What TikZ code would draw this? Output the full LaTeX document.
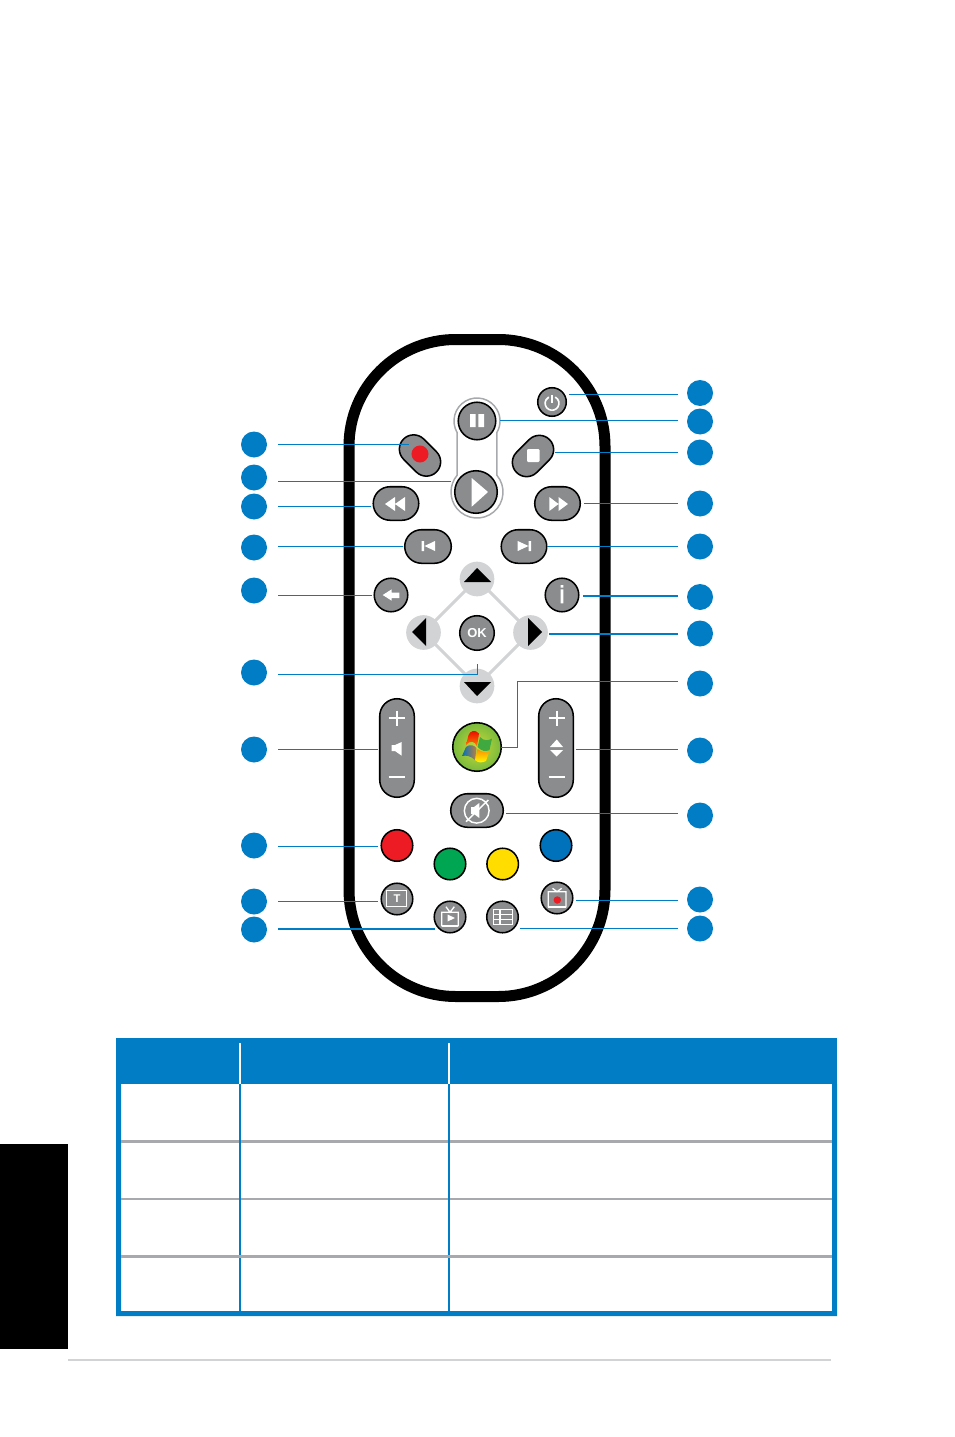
\documentclass[tikz,border=0pt]{standalone}
\usepackage{fontspec}
\setmainfont{Liberation Sans}
\usetikzlibrary{calc}
\definecolor{tblue}{HTML}{007DC5}
\definecolor{btngray}{HTML}{8A8C8E}
\definecolor{padgray}{HTML}{D1D3D4}
\definecolor{rulegray}{HTML}{A7A9AC}
\definecolor{kred}{HTML}{ED1C24}
\definecolor{kgreen}{HTML}{00A651}
\definecolor{kyellow}{HTML}{FFDD00}
\definecolor{kblue}{HTML}{0072BC}
\definecolor{wininner}{HTML}{C9DA3A}
\definecolor{winouter}{HTML}{78BA3C}
\tikzset{
  rad/.style={circle,minimum size=#1*1.5pt-1.1pt,inner sep=0pt},
  pill/.style 2 args={rectangle,minimum width=#1*0.75pt-1.1pt,minimum height=#2*0.75pt-1.1pt,
     rounded corners=#2*0.375pt-0.56pt,inner sep=0pt},
  vpill/.style 2 args={rectangle,minimum width=#1*0.75pt-1.1pt,minimum height=#2*0.75pt-1.1pt,
     rounded corners=#1*0.375pt-0.56pt,inner sep=0pt},
  btn/.style={draw=black,line width=1.15pt,fill=btngray},
  num/.style={circle,fill=tblue,minimum size=19.5pt,inner sep=0pt},
  pad/.style={circle,fill=padgray,minimum size=26pt,inner sep=0pt},
  leader/.style={draw=tblue,line width=0.75pt},
  leaderb/.style={draw=tblue,line width=1.15pt},
  ico/.style={fill=white,draw=none},
  tri/.style={fill=black,draw=none},
}
\newcommand\leadL[5][leader]{\draw[#1,shorten <=8.25pt] (#2.east |- 0,#4) -- ($(#3 |- 0,#4)+(#5,0)$);}
\newcommand\leadR[5][leader]{\draw[#1,shorten <=6.75pt] (#2.west |- 0,#4) -- ($(#3 |- 0,#4)+(#5,0)$);}
\begin{document}
\begin{tikzpicture}[x=0.75pt,y=-0.75pt]
\useasboundingbox (0,0) rectangle (954,1437);
\fill[white] (0,0) rectangle (954,1437);
% body
\node[draw=black,fill=white,line width=8.25pt,rectangle,rounded corners=80pt,minimum width=192pt,minimum height=492.75pt,inner sep=0pt] (body) at (477,668) {};
% pause/play holder
\draw[rulegray,line width=1.1pt,fill=white] (457.08,432.5) arc[start angle=210,end angle=-30,radius=17.25pt]
  -- (496.92,475.3) arc[start angle=40,end angle=-220,radius=19.5pt] -- cycle;
% buttons
\node[btn,rad=19.5] (pause) at (477,421) {};
\node[btn,rad=22] (play) at (476,492) {};
\node[btn,pill={48}{30},rotate=-45] (rec) at (420,455.5) {};
\node[btn,pill={48}{30},rotate=45] (stop) at (533,456) {};
\node[btn,pill={47}{35}] (rew) at (396,503.5) {};
\node[btn,pill={47}{35}] (ff) at (557.5,503.5) {};
\node[btn,pill={48}{35}] (prev) at (428,546.5) {};
\node[btn,pill={47}{35}] (next) at (524,546.5) {};
\node[btn,rad=15] (power) at (552,402) {};
\node[btn,rad=17.5] (back) at (391,595) {};
\node[btn,rad=17.5] (info) at (562,595) {};
\node[btn,rad=18] (ok) at (477,633) {};
\node[btn,vpill={36}{100}] (vol) at (397,748) {};
\node[btn,vpill={36}{100}] (ch) at (556,748) {};
\node[btn,pill={54}{35}] (mute) at (477,810.5) {};
\node[draw=black,line width=1.15pt,rad=25,inner color=wininner,outer color=winouter,shading=radial] (win) at (477,747) {};
\node[btn,rad=16.5,fill=kred] (kr) at (397,845.5) {};
\node[btn,rad=16.5,fill=kgreen] (kg) at (450,864) {};
\node[btn,rad=16.5,fill=kyellow] (ky) at (502.7,864) {};
\node[btn,rad=16.5,fill=kblue] (kb) at (556,845.5) {};
\node[btn,rad=16.5] (tt) at (397,899) {};
\node[btn,rad=16.5] (tvp) at (450,917) {};
\node[btn,rad=16.5] (guide) at (502.5,917) {};
\node[btn,rad=16.5] (tvr) at (557,898) {};
% d-pad
\node[pad] (up) at (477,579) {};
\node[pad] (lf) at (423.5,632.5) {};
\node[pad] (rt) at (530.5,632.5) {};
\node[pad] (dn) at (477,686) {};
\draw[padgray,line width=2.2pt] (up.center) -- (rt.center) -- (dn.center) -- (lf.center) -- cycle;
\fill[tri] (464,582) -- (477,568) -- (491,582) -- cycle;
\fill[tri] (464,682) -- (477,696) -- (491,682) -- cycle;
\fill[tri] (412,632) -- (426,618) -- (426,646) -- cycle;
\fill[tri] (542,632) -- (528,618) -- (528,646) -- cycle;
% icons
\fill[kred] (420,454) circle[radius=6.4pt];
\fill[ico,rounded corners=0.8pt] (527,449) rectangle (539.5,462);
\draw[white,line width=1.2pt,line cap=round] (555.5,397.3) arc[start angle=60,end angle=-240,radius=5.2pt];
\draw[white,line width=1.2pt] (552,395) -- (552,403);
\fill[ico] (470,414) rectangle (475.7,427) (478.3,414) rectangle (484,427);
\fill[ico] (471.7,478) -- (488,492) -- (471.7,506.7) -- cycle;
\fill[ico] (385,504) -- (395,497) -- (395,511) -- cycle (395,504) -- (405,497) -- (405,511) -- cycle;
\fill[ico] (568,504) -- (558.5,497) -- (558.5,511) -- cycle (558.5,504) -- (549.3,497) -- (549.3,511) -- cycle;
\fill[ico] (421.7,541) rectangle (424,551) (424.5,546) -- (435,541) -- (435,551) -- cycle;
\fill[ico] (528.5,541) rectangle (531,551) (528.5,546) -- (517.7,541) -- (517.7,551) -- cycle;
\fill[ico] (382.7,595) -- (391.7,589.3) -- (391.7,592.5) -- (399.3,592.5) -- (399.3,598) -- (391.7,598) -- (391.7,600.7) -- cycle;
\fill[ico] (560.7,585) rectangle (563.3,587.5) (560.7,589.3) rectangle (563.3,603.3);
\node[text=white,font=\bfseries\fontsize{9.7pt}{10pt}\selectfont,inner sep=0pt] (oktext) at (477,633) {OK};
\foreach \cx in {396.7,556.7}{
  \draw[white,line width=1.2pt] (\cx-8,718) -- (\cx+8,718) (\cx,710.5) -- (\cx,725.5) (\cx-8,777) -- (\cx+8,777);
}
\fill[ico] (391.7,745) -- (395,745) -- (401.7,742) -- (401.7,755.7) -- (395,751) -- (391.7,751) -- cycle;
\fill[ico] (556.7,739.5) -- (563,747) -- (550,747) -- cycle (556.7,756.5) -- (563,750) -- (550,750) -- cycle;
\draw[white,line width=1.1pt] (476.7,810.7) circle[radius=9.3pt];
\fill[ico] (471,807) -- (474,807) -- (479.3,803) -- (479.3,818) -- (474,814) -- (471,814) -- cycle;
\draw[white,line width=1.1pt] (466,821.7) -- (488.3,800);
\draw[white,line width=1pt] (386.7,890.7) rectangle (406.7,906.7);
\node[text=white,font=\bfseries\fontsize{8.4pt}{9pt}\selectfont,inner sep=0pt] (ttext) at (397,899) {T};
\draw[white,line width=1pt] (441.7,912.3) rectangle (458.3,925.7) (446,906.7) -- (450,912.3) -- (454.3,906.7);
\fill[ico] (441.7,925) rectangle (458.3,927);
\fill[ico] (447.5,914.5) -- (455,918) -- (447.5,921.5) -- cycle;
\draw[white,line width=1pt] (548.3,891.7) rectangle (566,906.7) (552.5,888.3) -- (557,891.7) -- (561.7,888.3);
\fill[ico] (548.3,906) rectangle (566,908);
\fill[kred] (557.3,900) circle[radius=2.8pt];
\draw[white,line width=0.9pt] (493.3,909.3) rectangle (512.3,924.3) (493.3,914.3) -- (512.3,914.3) (493.3,919.3) -- (512.3,919.3) (500,909.3) -- (500,924.3);
% flag
\shade[top color=red!90!black,bottom color=orange] (466,745) .. controls (470,740) and (475,741) .. (477,746.5) -- (479,733.5) .. controls (475,729) and (470,731) .. (468.5,735) -- cycle;
\fill[green!55!black!75!white] (480,737) .. controls (484,741) and (488,741) .. (492,738.5) -- (489.5,750) .. controls (486,752) and (481,751) .. (477.5,747) -- cycle;
\shade[left color=kblue,right color=orange!50!gray] (466,747) .. controls (470,744) and (474,745) .. (476.5,748) -- (475,760) .. controls (471,756) and (466,755) .. (462,756) -- cycle;
\shade[top color=orange!90!yellow,bottom color=yellow] (477.5,749) .. controls (481,752) and (486,753) .. (489,752) -- (486,761) .. controls (482,763) and (478,763) .. (475,760) -- cycle;
% callout discs
\foreach \n/\y in {L1/444.5,L2/477.5,L3/506.5,L4/547.5,L5/590.5,L6/672.5,L7/749.5,L8/845.5,L9/901.5,L10/929.5}
  \node[num] (\n) at (254,\y) {};
\foreach \n/\y in {R1/393,R2/421.5,R3/452.5,R4/503.5,R5/546.5,R6/597,R7/633.5,R8/683.5,R9/750.5,R10/815.5,R11/899.5,R12/928.5}
  \node[num] (\n) at (700,\y) {};
% leaders
\leadL{L1}{rec}{444}{-11}
\leadL{L2}{play}{481}{-25}
\leadL{L3}{rew}{506}{-25}
\leadL{L4}{prev}{546}{-25}
\leadL{L5}{back}{595}{-19}
\draw[leader,shorten <=8.25pt] (L6.east |- 0,674) -| ($(ok)+(0,31)$);
\leadL{L7}{vol}{749}{-19}
\leadL{L8}{kr}{846}{-19}
\leadL{L9}{tt}{901}{-19}
\leadL[leaderb]{L10}{tvp}{929}{-15}
\leadR{R1}{power}{394}{17}
\leadR{R2}{pause}{420}{23}
\leadR{R3}{stop}{452}{22}
\leadR{R4}{ff}{503}{26.5}
\leadR{R5}{next}{546}{24}
\leadR[leaderb]{R6}{info}{596}{21}
\leadR[leaderb]{R7}{rt}{634}{18.5}
\coordinate (bend) at (517,681);
\draw[leader,shorten <=6.75pt] (R8.west |- 0,681) -- (bend) |- ($(win |- 0,747)+(24,0)$);
\leadR{R9}{ch}{749}{20}
\leadR{R10}{mute}{813}{29}
\leadR{R11}{tvr}{900}{19}
\leadR{R12}{guide}{928}{17.5}
% table
\fill[black] (0,1144) rectangle (68,1349);
\draw[padgray,line width=1.3pt] (68,1360) -- (831,1360);
\fill[tblue] (116,1038) rectangle (837,1084);
\fill[tblue] (116,1084) rectangle (121,1316) (832,1084) rectangle (837,1316) (116,1311) rectangle (837,1316);
\draw[rulegray,line width=2.2pt] (121,1141.3) -- (832,1141.3) (121,1199) -- (832,1199);
\draw[tblue,line width=1.2pt] (240,1084) -- (240,1311) (449,1084) -- (449,1311);
\draw[white,line width=1.2pt] (240,1043) -- (240,1084) (449,1043) -- (449,1084);
\draw[rulegray,line width=2.2pt] (121,1256.3) -- (832,1256.3);
\end{tikzpicture}
\end{document}
